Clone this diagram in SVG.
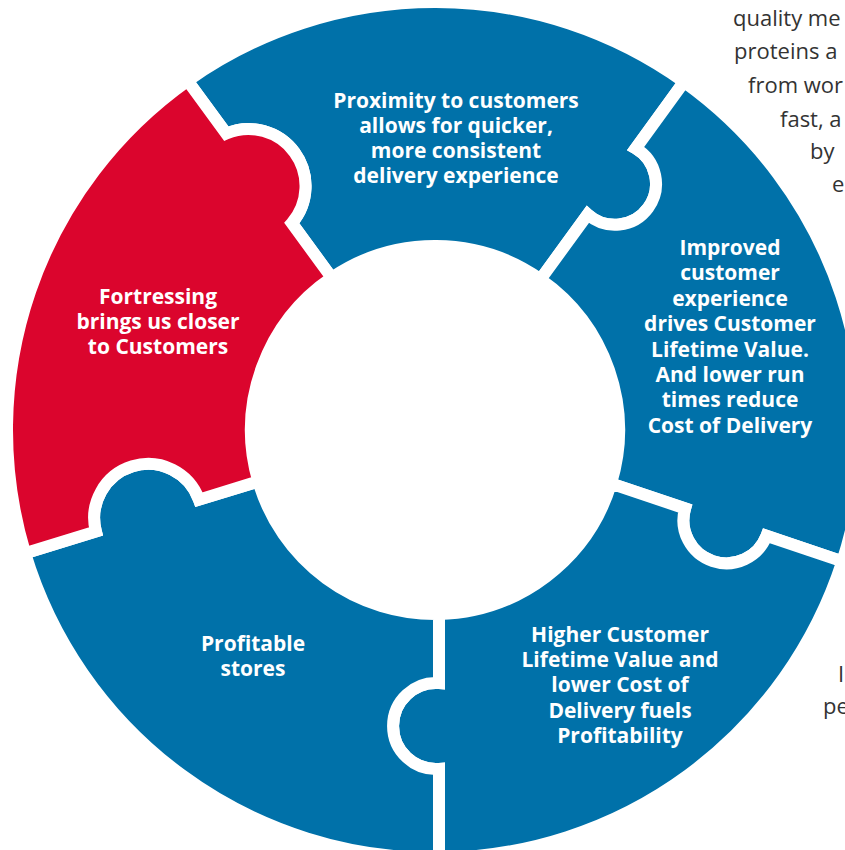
<svg xmlns="http://www.w3.org/2000/svg" width="845" height="850" viewBox="0 0 845 850">
<style>
.piece{stroke:#fff;stroke-width:12;stroke-linejoin:miter}
.blue{fill:#0071A9}
.red{fill:#DB052D}
.lbl{font-family:"Open Sans","Liberation Sans",sans-serif;font-weight:700;font-size:21px;fill:#fff;text-anchor:middle}
.side{font-family:"Open Sans","Liberation Sans",sans-serif;font-weight:400;font-size:22px;fill:#333}
</style>
<rect width="845" height="850" fill="#fff"/>
<g id="piece-proximity">
<path class="piece blue" d="M187.58,80.74 L226.24,133.56 A57,57 0 0 1 291.79,223.14 L331.73,277.71 A184,184 0 0 1 540.55,279.29 L587.71,214.38 A41,41 0 1 0 635.67,148.37 L683.98,81.88 A428,428 0 0 0 187.58,80.74 Z"/>
<text class="lbl" x="456" y="107.5"><tspan x="456">Proximity to customers</tspan><tspan x="456" dy="25.3">allows for quicker,</tspan><tspan x="456" dy="25.3">more consistent</tspan><tspan x="456" dy="25.3">delivery experience</tspan></text>
</g>
<g id="piece-experience">
<path class="piece blue" d="M683.98,81.88 L635.67,148.37 A41,41 0 1 1 587.71,214.38 L540.55,279.29 A184,184 0 0 1 611.04,483.55 L685.09,508.47 A43,43 0 0 0 766.51,535.88 L842.35,561.40 A428,428 0 0 0 683.98,81.88 Z"/>
<text class="lbl" x="730" y="255"><tspan x="730">Improved</tspan><tspan x="730" dy="25.4">customer</tspan><tspan x="730" dy="25.4">experience</tspan><tspan x="730" dy="25.4">drives Customer</tspan><tspan x="730" dy="25.4">Lifetime Value.</tspan><tspan x="730" dy="25.4">And lower run</tspan><tspan x="730" dy="25.4">times reduce</tspan><tspan x="730" dy="25.4">Cost of Delivery</tspan></text>
</g>
<g id="piece-profitability">
<path class="piece blue" d="M842.35,561.40 L766.51,535.88 A43,43 0 0 1 685.09,508.47 L611.04,483.55 A184,184 0 0 1 439,613.96 L439,683.1 A43,43 0 1 0 439,768.9 L439,857.98 A428,428 0 0 0 842.35,561.40 Z"/>
<text class="lbl" x="620" y="641.5"><tspan x="620">Higher Customer</tspan><tspan x="620" dy="25.4">Lifetime Value and</tspan><tspan x="620" dy="25.4">lower Cost of</tspan><tspan x="620" dy="25.4">Delivery fuels</tspan><tspan x="620" dy="25.4">Profitability</tspan></text>
</g>
<g id="piece-stores">
<path class="piece blue" d="M439,857.98 L439,768.9 A43,43 0 1 1 439,683.1 L439,613.96 A184,184 0 0 1 258.33,481.41 L198.99,499.66 A54,54 0 0 0 95.88,531.38 L25.11,553.15 A428,428 0 0 0 439,857.98 Z"/>
<text class="lbl" x="253" y="650.7"><tspan x="253">Profitable</tspan><tspan x="253" dy="24.8">stores</tspan></text>
</g>
<g id="piece-fortressing">
<path class="piece red" d="M25.11,553.15 L95.88,531.38 A54,54 0 0 1 198.99,499.66 L258.33,481.41 A184,184 0 0 1 331.73,277.71 L291.79,223.14 A57,57 0 0 0 226.24,133.56 L187.58,80.74 A428,428 0 0 0 25.11,553.15 Z"/>
<text class="lbl" x="158" y="303.5"><tspan x="158">Fortressing</tspan><tspan x="158" dy="25.2">brings us closer</tspan><tspan x="158" dy="25.2">to Customers</tspan></text>
</g>
<g id="connectors"></g>
<g id="side-text">
<text class="side" x="733" y="25.7">quality me</text>
<text class="side" x="734" y="59.3">proteins a</text>
<text class="side" x="748" y="92.7">from wor</text>
<text class="side" x="780" y="126.7">fast, a</text>
<text class="side" x="810" y="159.3">by</text>
<text class="side" x="832" y="191.7">e</text>
<text class="side" x="838" y="682">I</text>
<text class="side" x="823" y="714">pe</text>
</g>
</svg>
